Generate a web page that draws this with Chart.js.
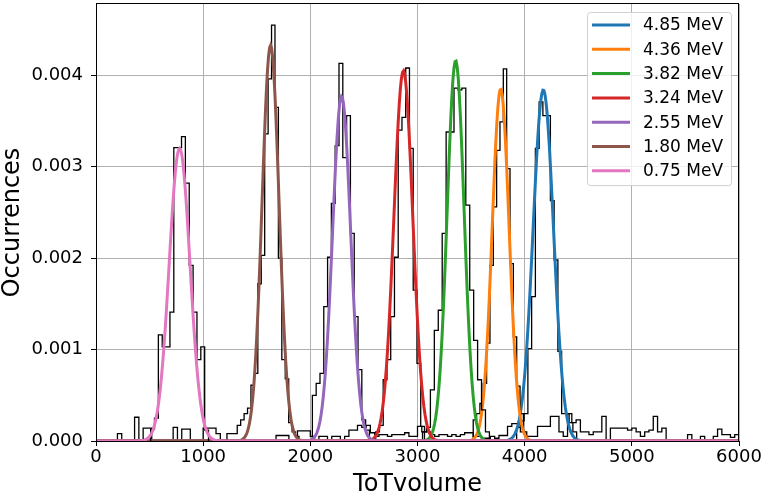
<!DOCTYPE html>
<html>
<head>
<meta charset="utf-8">
<script src="https://cdn.jsdelivr.net/npm/chart.js@4/dist/chart.umd.min.js"></script>
<style>
  html, body { margin: 0; padding: 0; background: #fff; }
  #wrap { width: 763px; height: 497px; }
</style>
</head>
<body>
<div id="wrap"><canvas id="spectra" width="763" height="497"></canvas></div>
<script>
// fitted peaks, one per beam energy (legend order)
const energies = ["4.85 MeV", "4.36 MeV", "3.82 MeV", "3.24 MeV", "2.55 MeV", "1.80 MeV", "0.75 MeV"];
const fitMean = [4174, 3776, 3356, 2868, 2292, 1629, 780];
const fitSigma = [95, 79, 79, 88, 84.5, 79, 97];
const fitPeak = [0.00384, 0.00385, 0.00416, 0.00405, 0.00377, 0.00433, 0.0032];

// normalised ToT histograms around each peak
const histStart = [3925, 3520, 3047, 2610, 2019, 1222, 510];
const histBinWidth = [35, 31.2, 36.7, 35, 35.5, 32, 36];
const hist485 = [0.00015, 0.00022, 0.0003, 0.00101, 0.00158, 0.0032, 0.00371, 0.00356, 0.00356, 0.00263, 0.00198, 0.00098, 0.0003, 0.0003, 0.0002, 0.0001];
const hist436 = [0.00023, 0.0003, 0.00041, 0.00063, 0.00107, 0.00192, 0.00256, 0.00318, 0.00349, 0.00407, 0.00298, 0.00194, 0.00114, 0.0006, 0.0003, 0.0001];
const hist382 = [0.0001, 0.00015, 0.00056, 0.00121, 0.00143, 0.00227, 0.00338, 0.00338, 0.00386, 0.00384, 0.00386, 0.00258, 0.00165, 0.0011, 0.00067, 0.00034, 0.0001];
const hist324 = [0.0001, 0.00017, 0.00067, 0.00089, 0.00136, 0.00201, 0.0034, 0.00354, 0.00408, 0.0032, 0.00165, 0.00085, 0.00016];
const hist255 = [0.0005, 0.00063, 0.00074, 0.00147, 0.00201, 0.0026, 0.00323, 0.00413, 0.0031, 0.00356, 0.00227, 0.00136, 0.00078, 0.00023, 0.00012];
const hist180 = [0.00008, 0.00008, 0.00008, 0.00017, 0.00023, 0.0003, 0.00036, 0.00061, 0.00074, 0.00172, 0.00203, 0.00336, 0.00396, 0.00455, 0.00365, 0.002, 0.00089, 0.00068, 0.0002, 0.0001, 0.00005];
const hist075 = [0.00013, 0.00025, 0.00116, 0.00103, 0.00103, 0.00141, 0.00321, 0.00321, 0.00333, 0.00282, 0.00192, 0.00141, 0.00089, 0.00103, 0.00012];
const histCounts = [hist485, hist436, hist382, hist324, hist255, hist180, hist075];

// flat background spread over the whole ToT range
const noiseStart = 200;
const noiseBinWidth = 40;
const noiseCounts = [
  0.00008, 0, 0, 0, 0.00026, 0, 0.00014, 0.00014, 0, 0,
  0, 0, 0, 0.00015, 0, 0.00013, 0.00013, 0, 0, 0,
  0.00014, 0.00014, 0.00014, 0.00008, 0, 0, 0, 0, 0, 0,
  0, 0, 0, 0, 0, 0, 0, 0.00006, 0.00006, 0.00006,
  0, 0, 0.00011, 0.00011, 0.00011, 0.00005, 0, 0.00005, 0.00005, 0,
  0.00005, 0.00005, 0, 0.00005, 0.00012, 0.00012, 0.00017, 0.00015, 0.00017, 0.00009,
  0.00005, 0.00007, 0.00007, 0.00005, 0.00007, 0.00007, 0.00007, 0.00009, 0.00005, 0.00005,
  0.00016, 0.0001, 0.0001, 0.00007, 0.00005, 0.00007, 0.00007, 0.00005, 0.00007, 0.00005,
  0.00007, 0.00009, 0.00009, 0.00005, 0.00005, 0.00003, 0.00003, 0.00005, 0.00003, 0.00006,
  0.00006, 0.00016, 0.00019, 0.00019, 0.0001, 0.00005, 0.00005, 0.00005, 0.00016, 0.00016,
  0.00016, 0.00027, 0.00027, 0.0001, 0.00005, 0.0003, 0.0002, 0.00023, 0.0001, 0.0001,
  0.00007, 0.0001, 0.0001, 0.00027, 0, 0.00014, 0.00014, 0.00014, 0.00014, 0.00012,
  0.00014, 0.0001, 0.00005, 0.0001, 0.00012, 0.00027, 0.0001, 0.00014, 0, 0,
  0, 0, 0, 0.00007, 0, 0, 0.00005, 0, 0, 0.00005,
  0.00013, 0.00007, 0.00007, 0.00004, 0.00007
];

const xTicks = [0, 1000, 2000, 3000, 4000, 5000, 6000];
const yTicks = [0, 0.001, 0.002, 0.003, 0.004];

const fitColors = ["#1f77b4", "#ff7f0e", "#2ca02c", "#d62728", "#9467bd", "#8c564b", "#e377c2"];
const FONT = "'DejaVu Sans', sans-serif";

// step outline like hist(histtype='step')
function histOutline(lo, width, heights) {
  const pts = [{ x: lo, y: 0 }];
  heights.forEach((h, i) => pts.push({ x: lo + i * width, y: h }));
  pts.push({ x: lo + heights.length * width, y: 0 });
  return pts;
}

// gaussian fit evaluated over the full axis
function fitCurve(mu, sigma, peak) {
  const pts = [];
  for (let x = 0; x <= 6000; x += 10) {
    const z = (x - mu) / sigma;
    pts.push({ x: x, y: peak * Math.exp(-0.5 * z * z) });
  }
  return pts;
}

const datasets = [];
let layer = 100;
datasets.push({
  data: histOutline(noiseStart, noiseBinWidth, noiseCounts),
  borderColor: "#000", borderWidth: 1.3, stepped: true, order: layer--
});
energies.forEach((lab, i) => {
  datasets.push({
    data: histOutline(histStart[i], histBinWidth[i], histCounts[i]),
    borderColor: "#000", borderWidth: 1.3, stepped: true, order: layer--
  });
  datasets.push({
    label: lab,
    data: fitCurve(fitMean[i], fitSigma[i], fitPeak[i]),
    borderColor: fitColors[i], borderWidth: 3, order: layer--
  });
});

// spines on all four sides plus the boxed legend in the upper right
const frameAndLegend = {
  id: "frameAndLegend",
  afterDatasetsDraw(chart) {
    const ctx = chart.ctx, a = chart.chartArea;
    ctx.save();
    ctx.strokeStyle = "#000";
    ctx.lineWidth = 1;
    ctx.strokeRect(Math.round(a.left) + 0.5, Math.round(a.top) - 0.5,
      Math.round(a.right - a.left) - 1, Math.round(a.bottom - a.top) + 1);
    ctx.restore();
  },
  afterDraw(chart) {
    const ctx = chart.ctx, a = chart.chartArea;
    const w = 144, rowH = 24.3;
    const h = rowH * energies.length + 3;
    const bx = a.right - 8 - w, by = a.top + 8;
    ctx.save();
    ctx.beginPath();
    ctx.roundRect(bx + 0.5, by + 0.5, w, h, 3);
    ctx.fillStyle = "rgba(255,255,255,0.8)";
    ctx.fill();
    ctx.strokeStyle = "#d0d0d0";
    ctx.lineWidth = 1;
    ctx.stroke();
    ctx.font = "17px " + FONT;
    ctx.textBaseline = "middle";
    ctx.textAlign = "left";
    energies.forEach((lab, i) => {
      const cy = by + 13 + i * rowH;
      ctx.strokeStyle = fitColors[i];
      ctx.lineWidth = 3;
      ctx.beginPath();
      ctx.moveTo(bx + 5, cy);
      ctx.lineTo(bx + 43, cy);
      ctx.stroke();
      ctx.fillStyle = "#000";
      ctx.fillText(lab, bx + 56, cy + 1);
    });
    ctx.restore();
  }
};

new Chart(document.getElementById("spectra"), {
  type: "line",
  data: { datasets: datasets },
  plugins: [frameAndLegend],
  options: {
    responsive: false,
    animation: false,
    devicePixelRatio: 1,
    layout: { padding: { top: 4, right: 24, left: 0, bottom: 0 } },
    elements: { point: { radius: 0 }, line: { tension: 0, fill: false } },
    plugins: { legend: { display: false }, tooltip: { enabled: false } },
    scales: {
      x: {
        type: "linear", min: 0, max: 6000,
        afterBuildTicks: s => { s.ticks = xTicks.map(v => ({ value: v })); },
        afterFit: s => { s.height = 56; s.paddingLeft = 0; s.paddingRight = 0; },
        ticks: { color: "#000", padding: 1, font: { family: FONT, size: 18 }, callback: v => String(v) },
        grid: { color: "#b0b0b0", lineWidth: 1, tickColor: "#000", tickLength: 5, drawTicks: true },
        border: { display: false },
        title: {
          display: true, text: "ToTvolume", color: "#000",
          font: { family: FONT, size: 24, lineHeight: 1 }, padding: { top: 0, bottom: 0 }
        }
      },
      y: {
        type: "linear", min: 0, max: 0.00478,
        afterBuildTicks: s => { s.ticks = yTicks.map(v => ({ value: v })); },
        afterFit: s => { s.width = 96; s.paddingTop = 0; s.paddingBottom = 0; },
        ticks: { color: "#000", padding: 8, font: { family: FONT, size: 18 }, callback: v => v.toFixed(3) },
        grid: { color: "#b0b0b0", lineWidth: 1, tickColor: "#000", tickLength: 5, drawTicks: true },
        border: { display: false },
        title: {
          display: true, text: "Occurrences", color: "#000",
          font: { family: FONT, size: 24, lineHeight: 1 }, padding: { top: 1, bottom: 0 }
        }
      }
    }
  }
});
</script>
</body>
</html>
